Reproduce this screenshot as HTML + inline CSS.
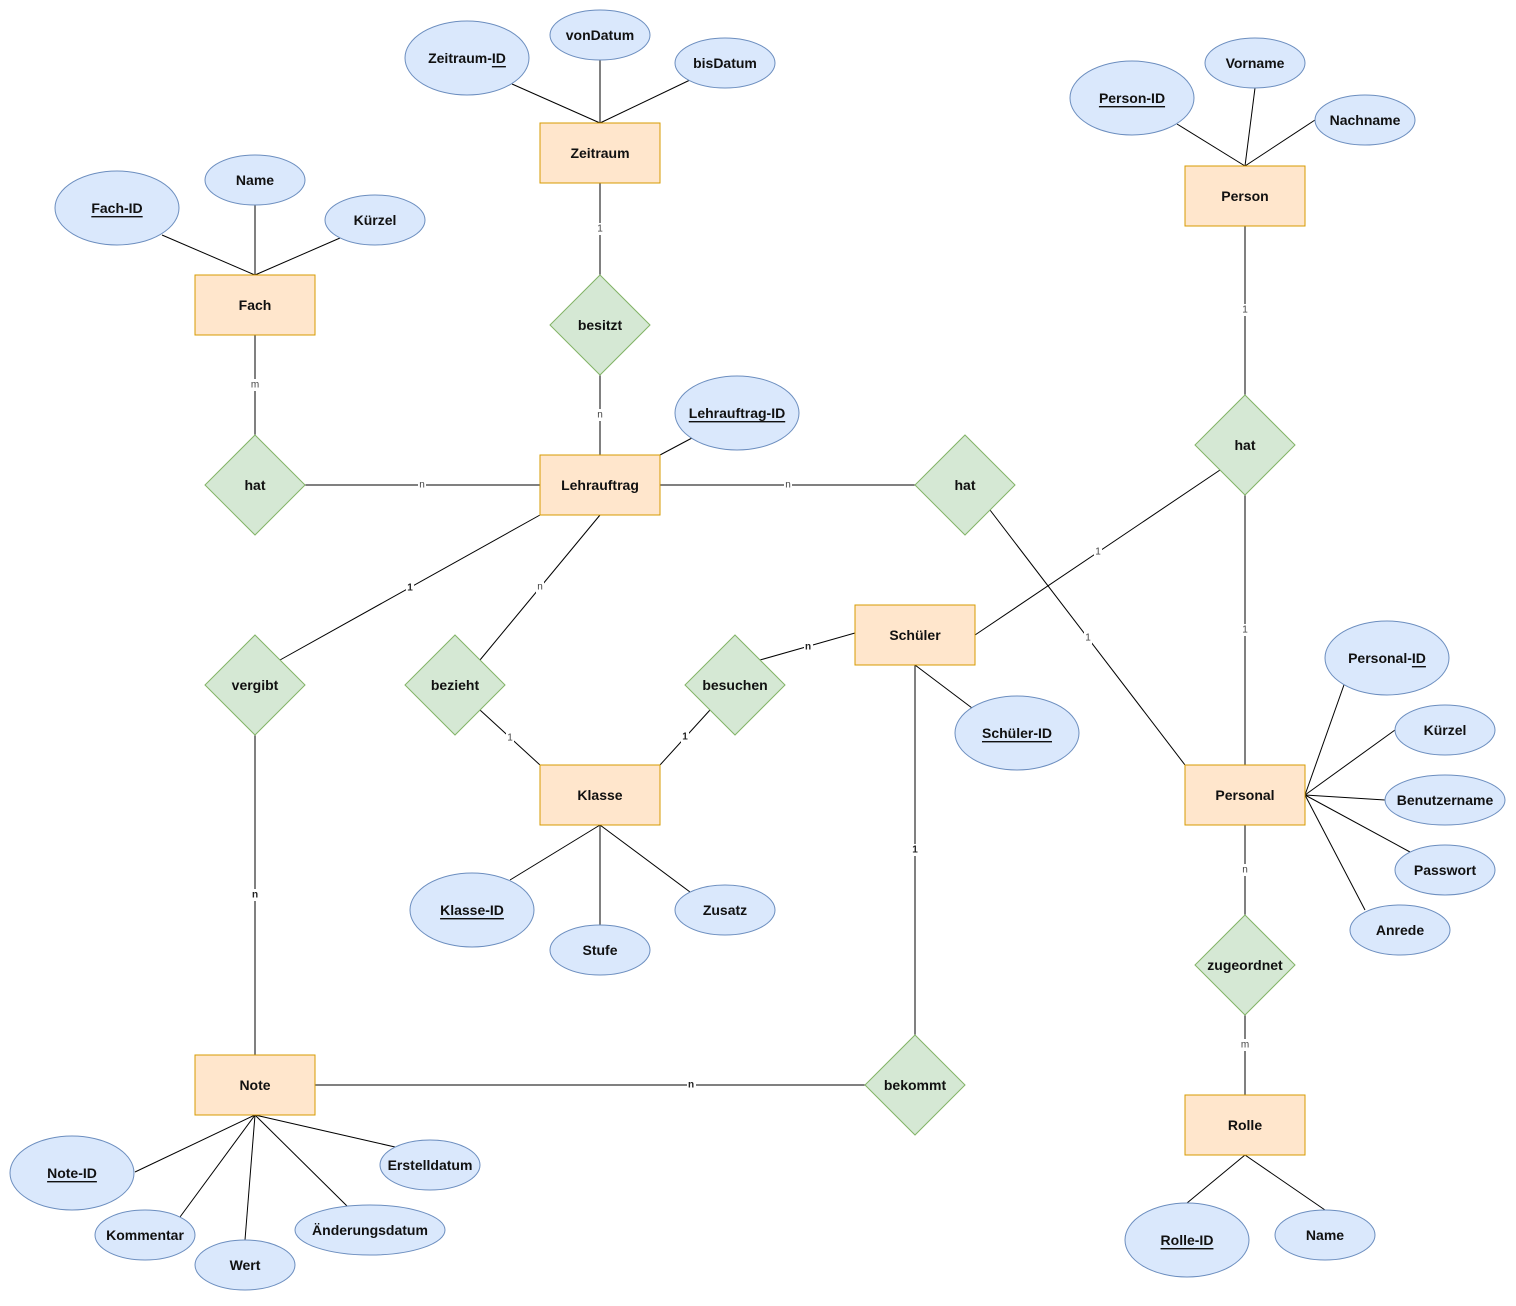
<!DOCTYPE html>
<html><head><meta charset="utf-8"><style>
html,body{margin:0;padding:0;background:#fff}
text{font-family:"Liberation Sans",Arial,sans-serif;font-size:14px;font-weight:bold;fill:#111;text-anchor:middle;dominant-baseline:central}
.l{font-size:10px;font-weight:normal;fill:#444}
.lb{font-size:10px;font-weight:bold;fill:#222}
.e{fill:#ffe6cc;stroke:#d79b00;stroke-width:1}
.a{fill:#dae8fc;stroke:#6c8ebf;stroke-width:1}
.r{fill:#d5e8d4;stroke:#82b366;stroke-width:1}
line{stroke:#000;stroke-width:1}
.bg{fill:#fff}
</style></head><body>
<svg width="1516" height="1301" xmlns="http://www.w3.org/2000/svg">
<!-- attribute lines -->
<line x1="512" y1="84" x2="600" y2="123"/><line x1="600" y1="60" x2="600" y2="123"/><line x1="690" y1="80" x2="600" y2="123"/>
<line x1="162" y1="235" x2="255" y2="275"/><line x1="255" y1="205" x2="255" y2="275"/><line x1="340" y1="238" x2="255" y2="275"/>
<line x1="1177" y1="124" x2="1245" y2="166"/><line x1="1255" y1="88" x2="1245" y2="166"/><line x1="1315" y1="120" x2="1245" y2="166"/>
<line x1="692" y1="438" x2="660" y2="455"/>
<line x1="915" y1="665" x2="972" y2="708"/>
<line x1="1345" y1="682" x2="1305" y2="795"/><line x1="1395" y1="730" x2="1305" y2="795"/><line x1="1385" y1="800" x2="1305" y2="795"/><line x1="1410" y1="852" x2="1305" y2="795"/><line x1="1365" y1="910" x2="1305" y2="795"/>
<line x1="600" y1="825" x2="510" y2="880"/><line x1="600" y1="825" x2="600" y2="925"/><line x1="600" y1="825" x2="690" y2="892"/>
<line x1="255" y1="1115" x2="135" y2="1172"/><line x1="255" y1="1115" x2="180" y2="1217"/><line x1="255" y1="1115" x2="245" y2="1240"/><line x1="255" y1="1115" x2="347" y2="1206"/><line x1="255" y1="1115" x2="395" y2="1147"/>
<line x1="1245" y1="1155" x2="1187" y2="1203"/><line x1="1245" y1="1155" x2="1325" y2="1210"/>
<!-- relationship lines -->
<line x1="600" y1="183" x2="600" y2="275"/><line x1="600" y1="375" x2="600" y2="455"/>
<line x1="255" y1="335" x2="255" y2="435"/><line x1="305" y1="485" x2="540" y2="485"/>
<line x1="660" y1="485" x2="915" y2="485"/>
<line x1="1245" y1="226" x2="1245" y2="395"/><line x1="1245" y1="495" x2="1245" y2="765"/>
<line x1="1220" y1="470" x2="975" y2="635"/>
<line x1="990" y1="510" x2="1185" y2="765"/>
<line x1="540" y1="515" x2="280" y2="660"/><line x1="255" y1="735" x2="255" y2="1055"/>
<line x1="600" y1="515" x2="480" y2="660"/><line x1="480" y1="710" x2="540" y2="765"/>
<line x1="760" y1="660" x2="855" y2="633"/><line x1="710" y1="710" x2="660" y2="765"/>
<line x1="915" y1="665" x2="915" y2="1035"/><line x1="315" y1="1085" x2="865" y2="1085"/>
<line x1="1245" y1="825" x2="1245" y2="915"/><line x1="1245" y1="1015" x2="1245" y2="1095"/>
<!-- cardinality labels -->
<g>
<rect class="bg" x="596" y="223" width="8" height="12"/><text class="l" x="600" y="229">1</text>
<rect class="bg" x="596" y="409" width="8" height="12"/><text class="l" x="600" y="415">n</text>
<rect class="bg" x="250" y="379" width="10" height="12"/><text class="l" x="255" y="385">m</text>
<rect class="bg" x="418" y="479" width="8" height="12"/><text class="l" x="422" y="485">n</text>
<rect class="bg" x="784" y="479" width="8" height="12"/><text class="l" x="788" y="485">n</text>
<rect class="bg" x="1241" y="304" width="8" height="12"/><text class="l" x="1245" y="310">1</text>
<rect class="bg" x="1241" y="624" width="8" height="12"/><text class="l" x="1245" y="630">1</text>
<rect class="bg" x="1094" y="546" width="8" height="12"/><text class="l" x="1098" y="552">1</text>
<rect class="bg" x="1084" y="632" width="8" height="12"/><text class="l" x="1088" y="638">1</text>
<rect class="bg" x="406" y="582" width="8" height="12"/><text class="lb" x="410" y="588">1</text>
<rect class="bg" x="536" y="581" width="8" height="12"/><text class="l" x="540" y="587">n</text>
<rect class="bg" x="506" y="732" width="8" height="12"/><text class="l" x="510" y="738">1</text>
<rect class="bg" x="681" y="731" width="8" height="12"/><text class="lb" x="685" y="737">1</text>
<rect class="bg" x="804" y="641" width="9" height="12"/><text class="lb" x="808" y="647">n</text>
<rect class="bg" x="251" y="889" width="8" height="12"/><text class="lb" x="255" y="895">n</text>
<rect class="bg" x="911" y="844" width="8" height="12"/><text class="lb" x="915" y="850">1</text>
<rect class="bg" x="687" y="1079" width="9" height="12"/><text class="lb" x="691" y="1085">n</text>
<rect class="bg" x="1241" y="864" width="8" height="12"/><text class="l" x="1245" y="870">n</text>
<rect class="bg" x="1240" y="1039" width="10" height="12"/><text class="l" x="1245" y="1045">m</text>
</g>
<!-- entities -->
<rect class="e" x="540" y="123" width="120" height="60"/><text x="600" y="153">Zeitraum</text>
<rect class="e" x="195" y="275" width="120" height="60"/><text x="255" y="305">Fach</text>
<rect class="e" x="1185" y="166" width="120" height="60"/><text x="1245" y="196">Person</text>
<rect class="e" x="540" y="455" width="120" height="60"/><text x="600" y="485">Lehrauftrag</text>
<rect class="e" x="855" y="605" width="120" height="60"/><text x="915" y="635">Schüler</text>
<rect class="e" x="540" y="765" width="120" height="60"/><text x="600" y="795">Klasse</text>
<rect class="e" x="1185" y="765" width="120" height="60"/><text x="1245" y="795">Personal</text>
<rect class="e" x="195" y="1055" width="120" height="60"/><text x="255" y="1085">Note</text>
<rect class="e" x="1185" y="1095" width="120" height="60"/><text x="1245" y="1125">Rolle</text>
<!-- relationships -->
<g>
<polygon class="r" points="600,275 650,325 600,375 550,325"/><text x="600" y="325">besitzt</text>
<polygon class="r" points="255,435 305,485 255,535 205,485"/><text x="255" y="485">hat</text>
<polygon class="r" points="965,435 1015,485 965,535 915,485"/><text x="965" y="485">hat</text>
<polygon class="r" points="1245,395 1295,445 1245,495 1195,445"/><text x="1245" y="445">hat</text>
<polygon class="r" points="255,635 305,685 255,735 205,685"/><text x="255" y="685">vergibt</text>
<polygon class="r" points="455,635 505,685 455,735 405,685"/><text x="455" y="685">bezieht</text>
<polygon class="r" points="735,635 785,685 735,735 685,685"/><text x="735" y="685">besuchen</text>
<polygon class="r" points="1245,915 1295,965 1245,1015 1195,965"/><text x="1245" y="965">zugeordnet</text>
<polygon class="r" points="915,1035 965,1085 915,1135 865,1085"/><text x="915" y="1085">bekommt</text>
</g>
<!-- attributes -->
<g>
<ellipse class="a" cx="467" cy="58" rx="62" ry="37"/><text x="467" y="58">Zeitraum-<tspan text-decoration="underline">ID</tspan></text>
<ellipse class="a" cx="600" cy="35" rx="50" ry="25"/><text x="600" y="35">vonDatum</text>
<ellipse class="a" cx="725" cy="63" rx="50" ry="25"/><text x="725" y="63">bisDatum</text>
<ellipse class="a" cx="117" cy="208" rx="62" ry="37"/><text x="117" y="208" text-decoration="underline">Fach-ID</text>
<ellipse class="a" cx="255" cy="180" rx="50" ry="25"/><text x="255" y="180">Name</text>
<ellipse class="a" cx="375" cy="220" rx="50" ry="25"/><text x="375" y="220">Kürzel</text>
<ellipse class="a" cx="1132" cy="98" rx="62" ry="37"/><text x="1132" y="98" text-decoration="underline">Person-ID</text>
<ellipse class="a" cx="1255" cy="63" rx="50" ry="25"/><text x="1255" y="63">Vorname</text>
<ellipse class="a" cx="1365" cy="120" rx="50" ry="25"/><text x="1365" y="120">Nachname</text>
<ellipse class="a" cx="737" cy="413" rx="62" ry="37"/><text x="737" y="413" text-decoration="underline">Lehrauftrag-ID</text>
<ellipse class="a" cx="1017" cy="733" rx="62" ry="37"/><text x="1017" y="733" text-decoration="underline">Schüler-ID</text>
<ellipse class="a" cx="1387" cy="658" rx="62" ry="37"/><text x="1387" y="658">Personal-<tspan text-decoration="underline">ID</tspan></text>
<ellipse class="a" cx="1445" cy="730" rx="50" ry="25"/><text x="1445" y="730">Kürzel</text>
<ellipse class="a" cx="1445" cy="800" rx="60" ry="25"/><text x="1445" y="800">Benutzername</text>
<ellipse class="a" cx="1445" cy="870" rx="50" ry="25"/><text x="1445" y="870">Passwort</text>
<ellipse class="a" cx="1400" cy="930" rx="50" ry="25"/><text x="1400" y="930">Anrede</text>
<ellipse class="a" cx="472" cy="910" rx="62" ry="37"/><text x="472" y="910" text-decoration="underline">Klasse-ID</text>
<ellipse class="a" cx="600" cy="950" rx="50" ry="25"/><text x="600" y="950">Stufe</text>
<ellipse class="a" cx="725" cy="910" rx="50" ry="25"/><text x="725" y="910">Zusatz</text>
<ellipse class="a" cx="72" cy="1173" rx="62" ry="37"/><text x="72" y="1173" text-decoration="underline">Note-ID</text>
<ellipse class="a" cx="145" cy="1235" rx="50" ry="25"/><text x="145" y="1235">Kommentar</text>
<ellipse class="a" cx="245" cy="1265" rx="50" ry="25"/><text x="245" y="1265">Wert</text>
<ellipse class="a" cx="370" cy="1230" rx="75" ry="25"/><text x="370" y="1230">Änderungsdatum</text>
<ellipse class="a" cx="430" cy="1165" rx="50" ry="25"/><text x="430" y="1165">Erstelldatum</text>
<ellipse class="a" cx="1187" cy="1240" rx="62" ry="37"/><text x="1187" y="1240" text-decoration="underline">Rolle-ID</text>
<ellipse class="a" cx="1325" cy="1235" rx="50" ry="25"/><text x="1325" y="1235">Name</text>
</g>
</svg>
</body></html>
